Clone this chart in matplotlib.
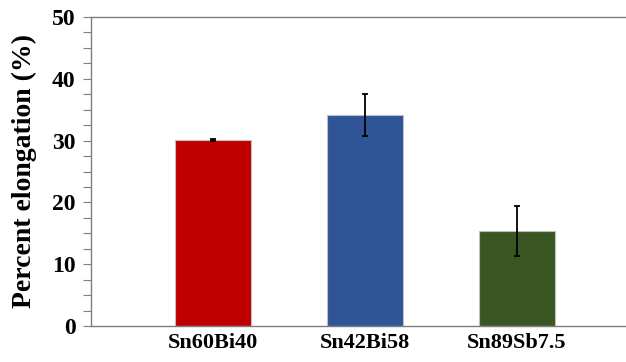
import matplotlib
matplotlib.use('Agg')
import matplotlib.pyplot as plt
from matplotlib.ticker import MultipleLocator

alloys = ['Sn60Bi40', 'Sn42Bi58', 'Sn89Sb7.5']
elongation = [30.1, 34.1, 15.4]
elong_err = [0.1, 3.4, 4.0]
bar_colors = ['#C00000', '#2F5597', '#3A5723']

plt.rcParams['font.family'] = ['Liberation Serif', 'DejaVu Serif']
plt.rcParams['font.weight'] = 'bold'

fig = plt.figure(figsize=(6.26, 3.62), dpi=100)
ax = fig.add_axes([91 / 626, 36 / 362, 535 / 626, 309 / 362])

x = range(len(alloys))
ax.bar(x, elongation, width=0.5, color=bar_colors, edgecolor='#BFBFBF', linewidth=0.8,
       yerr=elong_err, error_kw=dict(ecolor='black', elinewidth=1.3, capsize=2.5, capthick=1.3),
       zorder=2)

ax.set_xlim(-0.8, 2.72)
ax.set_ylim(0, 50)
ax.set_xticks(list(x))
ax.set_xticklabels(alloys, fontsize=16, fontweight='bold')
ax.yaxis.set_major_locator(MultipleLocator(10))
ax.yaxis.set_minor_locator(MultipleLocator(2.5))
ax.tick_params(axis='y', which='both', direction='out', length=6, width=0.8,
               color='#7F7F7F', labelsize=17, pad=5)
ax.tick_params(axis='x', length=0, pad=5)
ax.set_ylabel('Percent elongation (%)', fontsize=20, fontweight='bold', labelpad=11)

for side in ['left', 'top', 'bottom']:
    ax.spines[side].set_color('#7F7F7F')
    ax.spines[side].set_linewidth(1.0)
ax.spines['right'].set_visible(False)

fig.savefig('out.png', dpi=100, facecolor='white')
